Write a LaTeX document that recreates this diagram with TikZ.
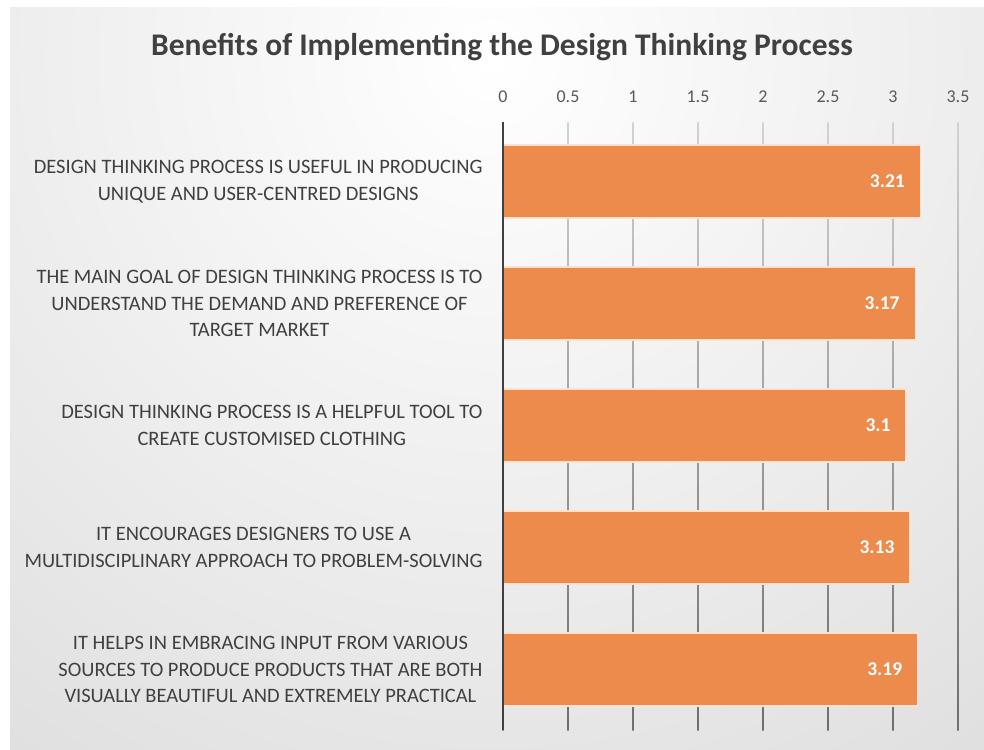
\documentclass[tikz,border=0pt]{standalone}
\usepackage{fontspec}
\setmainfont{Carlito}
\usepackage{xcolor}
\usepackage{tikz}
\usetikzlibrary{positioning}
\definecolor{barorange}{HTML}{ED8B4D}
\definecolor{baredge}{HTML}{FBE3CF}
\definecolor{txtgray}{HTML}{404040}
\definecolor{tickgray}{HTML}{595959}
\definecolor{gridtop}{HTML}{D2D2D2}
\definecolor{gridbot}{HTML}{6E6E6E}
\definecolor{panelgray}{HTML}{C0C0C0}

\begin{document}
\begin{tikzpicture}[x=1pt, y=-1pt,
    catlabel/.style={anchor=east, align=center, text=txtgray, font=\fontsize{20.5}{26.5}\selectfont},
    vallabel/.style={anchor=east, text=white, font=\bfseries\fontsize{19.5}{22}\selectfont},
    ticklabel/.style={text=tickgray, font=\fontsize{18}{20}\selectfont},
    gridline/.style={top color=gridtop, bottom color=gridbot},
    bar/.style={fill=barorange, draw=baredge, line width=1.2pt}]
      \useasboundingbox (0,0) rectangle (984,749);
      % panel
      \begin{scope}
        \clip (10,8) rectangle (984,749);
        \shade[inner color=white, outer color=panelgray] (490,60) circle (1700);
      \end{scope}
      \node[font=\bfseries\fontsize{31.5}{34}\selectfont, text=txtgray] (title) at (502,47) {Benefits of Implementing the Design Thinking Process};
      % ticks and grid
      \foreach \t [count=\i] in {0,0.5,1,1.5,2,2.5,3,3.5} {
        \node[ticklabel] (tick\i) at ({503+130*\t},97) {\t};
        \shade[gridline] ({502.3+130*\t},122) rectangle ({503.7+130*\t},730);
      }
      % bars
      \foreach \v/\yc/\txt [count=\i] in {
          3.21/181.5/{DESIGN THINKING PROCESS IS USEFUL IN PRODUCING\\UNIQUE AND USER-CENTRED DESIGNS},
          3.17/303.5/{THE MAIN GOAL OF DESIGN THINKING PROCESS IS TO\\UNDERSTAND THE DEMAND AND PREFERENCE OF\\TARGET MARKET},
          3.1/425.5/{DESIGN THINKING PROCESS IS A HELPFUL TOOL TO\\CREATE CUSTOMISED CLOTHING},
          3.13/547.5/{IT ENCOURAGES DESIGNERS TO USE A\\MULTIDISCIPLINARY APPROACH TO PROBLEM-SOLVING},
          3.19/669.5/{IT HELPS IN EMBRACING INPUT FROM VARIOUS\\SOURCES TO PRODUCE PRODUCTS THAT ARE BOTH\\VISUALLY BEAUTIFUL AND EXTREMELY PRACTICAL}} {
        \draw[bar] (503,{\yc-36.5}) rectangle ({503+130*\v},{\yc+36.5});
        \node[vallabel] (val\i) at ({491+130*\v},\yc) {\v};
        \node[catlabel] (cat\i) at (486,\yc) {\txt};
      }
      \draw[txtgray, line width=2pt] (503,122) -- (503,730);
    \end{tikzpicture}
\end{document}
